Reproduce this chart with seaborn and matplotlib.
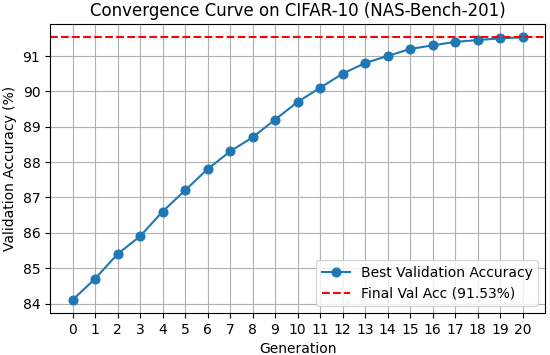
import pandas as pd
import seaborn as sns
import matplotlib
matplotlib.use("Agg")
import matplotlib.pyplot as plt

generations = list(range(21))
best_val_acc = [84.1, 84.7, 85.4, 85.9, 86.6, 87.2, 87.8, 88.3, 88.7, 89.2, 89.7,
                90.1, 90.5, 90.8, 91.0, 91.2, 91.3, 91.4, 91.45, 91.5, 91.53]
final_acc = 91.53

df = pd.DataFrame({"Generation": generations, "Accuracy": best_val_acc})

fig, ax = plt.subplots(figsize=(5.5, 3.55), dpi=100)
sns.lineplot(data=df, x="Generation", y="Accuracy", marker="o", markersize=6.5,
             markeredgecolor="#1f77b4", color="#1f77b4",
             label="Best Validation Accuracy", ax=ax)
ax.axhline(final_acc, color="red", linestyle="--", label=f"Final Val Acc ({final_acc:.2f}%)")
ax.set_title("Convergence Curve on CIFAR-10 (NAS-Bench-201)")
ax.set_xlabel("Generation")
ax.set_ylabel("Validation Accuracy (%)")
ax.set_xticks(generations)
ax.grid(True)
ax.legend(loc="lower right")
fig.subplots_adjust(left=0.091, right=0.991, top=0.932, bottom=0.118)
fig.savefig("out.png")
